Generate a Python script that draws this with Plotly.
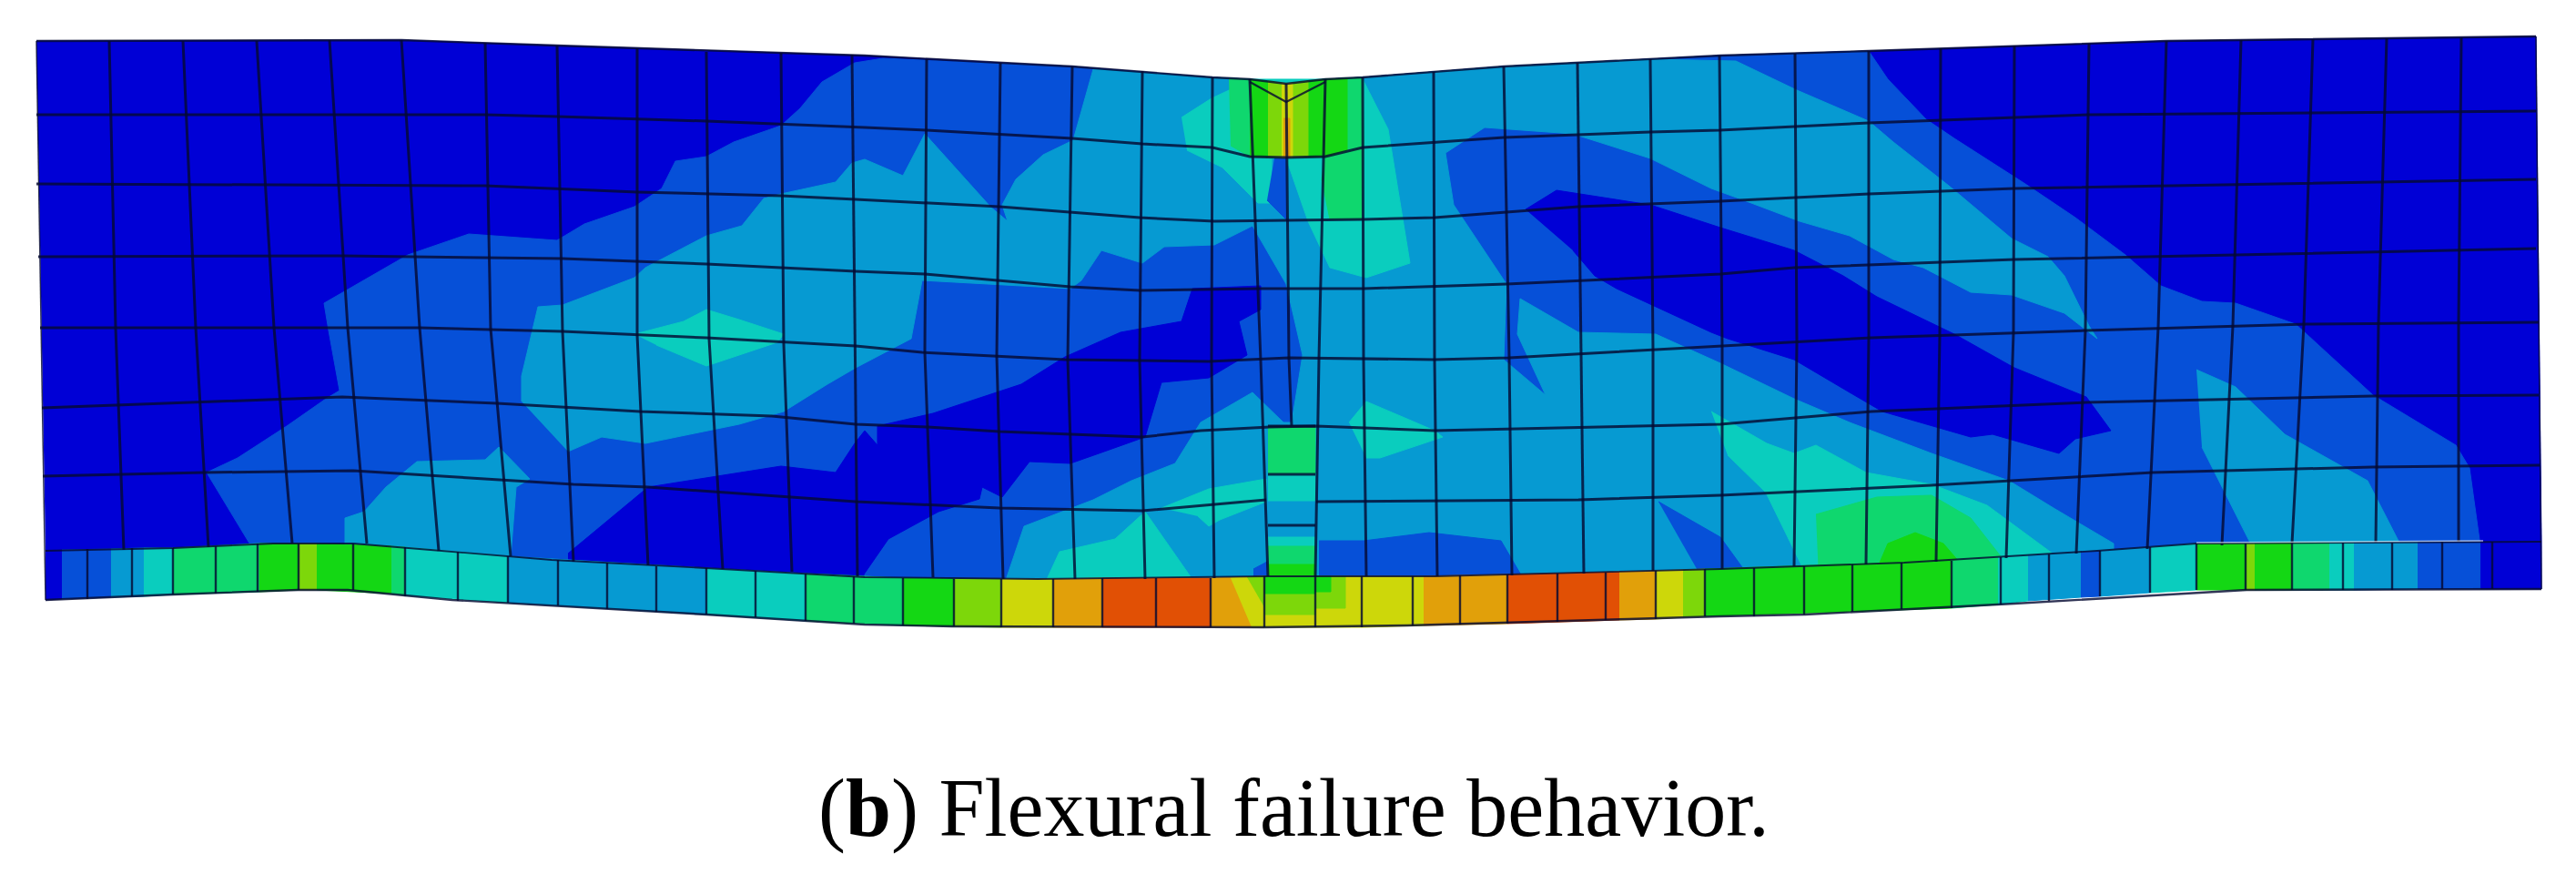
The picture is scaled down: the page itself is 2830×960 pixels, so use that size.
import plotly.graph_objects as go

# band colours of the contour legend, low to high
BAND_COLORS = ["#0000d6", "#0650d8", "#069ad2", "#0acdbe", "#0fd76e", "#14d714",
               "#7dd70a", "#cdd70a", "#e1a00a", "#e15005"]

# deformed outline of the beam
TOP_X = [40, 441, 612, 950, 1178, 1332, 1373, 1413, 1456, 1497, 1652, 1890, 2053, 2380, 2786]
TOP_Y = [45, 44, 50, 61, 73, 85, 87, 92, 87, 85, 73, 61, 56, 45, 40]
BOTTOM_X = [50, 190, 327, 382, 497, 776, 950, 1046, 1388, 1546, 1789, 1890, 1983, 2213, 2468, 2792]
BOTTOM_Y = [659, 653, 648, 648, 659, 675, 686, 688, 689, 687, 680, 677, 675, 663, 648, 647]

# horizontal mesh lines
ROW1_X = [40, 533, 612, 776, 950, 1018, 1178, 1255, 1332, 1373, 1413, 1456, 1497, 1652, 1813, 1889, 2053, 2295, 2786]
ROW1_Y = [126, 126, 128, 133, 140, 143, 152, 158, 162, 172, 173, 172, 162, 151, 145, 143, 135, 126, 122]
ROW2_X = [40, 533, 700, 858, 940, 1018, 1098, 1252, 1334, 1414, 1498, 1576, 1734, 1890, 2053, 2213, 2541, 2786]
ROW2_Y = [202, 204, 211, 215, 219, 223, 227, 239, 243, 242, 241, 239, 227, 221, 213, 207, 201, 197]
ROW3_X = [42, 376, 618, 776, 940, 1016, 1176, 1252, 1385, 1498, 1655, 1813, 1890, 1971, 2213, 2456, 2786]
ROW3_Y = [282, 281, 284, 290, 298, 301, 315, 319, 317, 317, 312, 305, 301, 294, 285, 280, 273]
ROW4_X = [44, 461, 618, 776, 940, 1013, 1170, 1328, 1416, 1576, 1658, 1890, 2056, 2292, 2534, 2789]
ROW4_Y = [360, 360, 364, 371, 380, 387, 395, 397, 393, 395, 393, 380, 371, 363, 356, 354]
ROW5_X = [46, 218, 376, 546, 703, 848, 940, 1019, 1098, 1255, 1319, 1395, 1446, 1576, 1890, 2056, 2292, 2607, 2789]
ROW5_Y = [448, 442, 436, 443, 452, 457, 466, 469, 474, 480, 473, 469, 468, 473, 466, 452, 442, 435, 434]
ROW6A_X = [47, 224, 388, 630, 712, 940, 1098, 1255, 1391]
ROW6A_Y = [523, 519, 517, 532, 535, 551, 558, 561, 549]
ROW6B_X = [1446, 1734, 1890, 2122, 2365, 2607, 2790]
ROW6B_Y = [551, 549, 544, 533, 519, 513, 511]
ROW7_X = [50, 190, 300, 388, 473, 606, 776, 950, 1140, 1391, 1576, 1819, 1890, 2092, 2304, 2413, 2728, 2792]
ROW7_Y = [605, 602, 597, 597, 604, 615, 624, 634, 636, 633, 633, 627, 625, 618, 605, 597, 595, 595]

# vertical mesh lines, top node / mid height node / bottom node
COL_TOP_X = [120, 201, 282, 362, 441, 533, 612, 700, 776, 858, 936, 1018, 1099, 1178, 1255, 1332, 1373, 1413, 1456,
             1497, 1575, 1652, 1733, 1813, 1889, 1972, 2053, 2132, 2213, 2295, 2380, 2462, 2541, 2622, 2704]
COL_TOP_Y = [45, 45, 45, 44, 44, 47, 50, 53, 57, 58, 60, 65, 69, 73, 78, 85, 87, 92, 87,
             85, 79, 73, 69, 65, 61, 59, 56, 53, 50, 48, 45, 44, 43, 42, 41]
COL_MID_X = [127, 215, 301, 382, 461, 539, 618, 700, 779, 861, 939, 1016, 1095, 1173, 1252, 1331, 1385, 1416, 1449,
             1498, 1576, 1658, 1737, 1816, 1892, 1974, 2053, 2131, 2212, 2291, 2371, 2453, 2531, 2613, 2701]
COL_MID_Y = [360, 360, 360, 360, 360, 361, 364, 368, 372, 378, 381, 387, 391, 395, 396, 397, 396, 393, 394,
             395, 395, 393, 389, 384, 380, 376, 371, 368, 365, 363, 360, 358, 356, 355, 354]
COL_BOT_X = [136, 229, 321, 403, 482, 561, 630, 712, 794, 870, 942, 1025, 1102, 1181, 1258, 1334, 1393, 1419, 1445,
             1501, 1579, 1661, 1740, 1816, 1892, 1971, 2050, 2127, 2204, 2281, 2359, 2441, 2518, 2610, 2701]
COL_BOT_Y = [604, 601, 597, 597, 605, 611, 617, 621, 625, 628, 633, 634, 636, 636, 636, 635, 633, 468, 633,
             633, 633, 632, 630, 627, 625, 622, 620, 617, 613, 608, 603, 599, 597, 596, 595]

# steel bar row under the concrete: where a band starts, its edges, its band index
BAR_X = [50, 68, 122, 158, 190, 285, 328, 348, 430, 445, 558, 776, 885, 992, 1048, 1100, 1157, 1211, 1330, 1389,
         1445, 1498, 1564, 1656, 1779, 1819, 1849, 1873, 2144, 2195, 2228, 2286, 2307, 2362, 2413, 2468, 2477,
         2518, 2559, 2586, 2656, 2725, 2792]
BAR_TOP = [605, 604, 603, 602, 602, 597, 597, 597, 600, 601, 611, 624, 630, 635, 636, 636, 636, 635, 635, 633,
           633, 633, 633, 631, 628, 627, 626, 625, 616, 612, 610, 606, 605, 601, 597, 597, 597,
           596, 596, 596, 595, 595, 595]
BAR_BOT = [659, 658, 656, 655, 653, 650, 648, 648, 652, 654, 662, 675, 682, 687, 688, 689, 689, 689, 689, 689,
           689, 689, 687, 685, 681, 680, 678, 677, 668, 664, 660, 656, 655, 651, 648, 648, 648,
           648, 648, 648, 647, 647, 647]
BAR_BAND = [0, 1, 2, 3, 4, 5, 6, 5, 4, 3, 2, 3, 4, 5, 6, 7, 8, 9, 8, 7,
            7, 7, 8, 9, 8, 7, 6, 5, 4, 3, 2, 1, 2, 3, 5, 6, 5,
            4, 3, 2, 1, 0]
BAR_TICK_X = [96, 145, 190, 237, 283, 328, 388, 445, 503, 558, 613, 667, 721, 776, 830, 885, 938, 992, 1048, 1100,
              1157, 1211, 1270, 1330, 1389, 1445, 1496, 1552, 1604, 1656, 1711, 1764, 1819, 1873, 1927, 1982, 2035,
              2089, 2144, 2198, 2251, 2307, 2362, 2413, 2467, 2518, 2574, 2628, 2683, 2738]
BAR_TICK_TOP = [603, 602, 602, 600, 597, 597, 597, 601, 606, 611, 615, 618, 622, 624, 627, 630, 633, 635, 636, 636,
                636, 635, 635, 635, 633, 633, 633, 633, 632, 631, 630, 629, 627, 625, 624, 622, 620,
                618, 616, 612, 609, 605, 601, 597, 597, 596, 596, 596, 595, 595]
BAR_TICK_BOT = [658, 655, 653, 652, 650, 648, 648, 655, 660, 662, 665, 669, 672, 675, 678, 682, 685, 687, 688, 689,
                689, 689, 689, 689, 689, 689, 689, 687, 686, 685, 683, 681, 680, 677, 677, 675, 672,
                669, 668, 664, 660, 655, 651, 648, 648, 648, 648, 648, 647, 647]
BAR_GLINT_X = [2413, 2728]
BAR_GLINT_Y = [596, 594]

# stress bands, drawn from the lowest band upward
B1_X = [276, 227, 261, 315, 358, 373, 361, 356, 448, 515, 612, 642, 697, 727, 742, 776, 806, 858, 879, 903, 939, 970,
        1178, 1332, 1413, 1497, 1652, 1890, 2053, 2074, 2116, 2147, 2225, 2280, 2335, 2374, 2419, 2456, 2522, 2607,
        2698, 2713, 2725, 2304, 1890, 1391, 950, 606, 388]
B1_Y = [600, 519, 503, 468, 438, 429, 363, 333, 280, 257, 264, 246, 227, 207, 177, 172, 156, 138, 119, 90, 69, 64,
        73, 85, 92, 85, 73, 61, 56, 87, 131, 152, 202, 239, 280, 314, 331, 333, 356, 434,
        489, 514, 600, 610, 630, 640, 640, 620, 600]

B2_MAIN_X = [573, 573, 591, 618, 697, 709, 776, 815, 839, 858, 918, 936, 950, 992, 1016, 1088, 1107, 1101, 1116, 1146,
             1179, 1201, 1332, 1373, 1413, 1456, 1497, 1652, 1813, 1907, 1974, 2053, 2080, 2141, 2210, 2250, 2268,
             2295, 2304, 2268, 2210, 2165, 2113, 2080, 2032, 1977, 1916, 1880, 1813, 1728, 1631, 1588, 1597, 1655,
             1652, 1698, 1667, 1670, 1734, 1819, 1890, 1971, 2032, 2122, 2207, 2256, 2322, 2322, 2100, 1890, 1650,
             1391, 1104, 1125, 1201, 1243, 1291, 1319, 1376, 1410, 1419, 1431, 1413, 1376, 1334, 1279, 1255, 1210,
             1188, 1176, 1091, 1013, 1001, 940, 909, 861, 812, 709, 661, 624]
B2_MAIN_Y = [441, 413, 337, 335, 305, 294, 259, 248, 218, 213, 200, 179, 175, 193, 147, 227, 243, 225, 197, 170,
             154, 76, 85, 87, 92, 87, 85, 73, 65, 67, 99, 133, 156, 204, 262, 282, 303,
             358, 372, 344, 324, 321, 294, 285, 259, 243, 220, 207, 174, 147, 140, 168, 225, 312,
             395, 434, 367, 328, 365, 367, 399, 438, 464, 498, 528, 558, 597, 610, 625, 635, 640,
             640, 640, 578, 549, 528, 509, 464, 431, 464, 464, 390, 312, 248, 269, 271, 289, 275,
             308, 317, 312, 308, 372, 404, 422, 452, 466, 487, 480, 496]
B2_LEFT_X = [379, 379, 400, 424, 458, 533, 548, 582, 567, 561]
B2_LEFT_Y = [600, 569, 562, 535, 507, 505, 491, 526, 535, 612]
B2_RIGHT_X = [2413, 2456, 2510, 2601, 2638, 2474, 2419]
B2_RIGHT_Y = [406, 425, 477, 528, 600, 600, 491]

B1_HOLE_A_X = [1449, 1498, 1570, 1649, 1676, 1449]
B1_HOLE_A_Y = [594, 594, 585, 594, 640, 640]
B1_HOLE_B_X = [1822, 1890, 1919, 1867]
B1_HOLE_B_Y = [551, 590, 630, 630]
B1_HOLE_C_X = [1377, 1392, 1392, 1377]
B1_HOLE_C_Y = [625, 617, 636, 636]
B1_SLIVER_X = [1400, 1413, 1413, 1392]
B1_SLIVER_Y = [174, 174, 241, 220]

B0_LOW_X = [624, 712, 788, 858, 918, 939, 950, 964, 964, 1025, 1122, 1170, 1231, 1298, 1310, 1385, 1385, 1361, 1370,
            1328, 1276, 1258, 1213, 1176, 1131, 1101, 1079, 1076, 1031, 976, 949, 949, 624]
B0_LOW_Y = [608, 535, 523, 512, 519, 487, 473, 489, 468, 454, 422, 392, 365, 353, 317, 314, 340, 353, 390,
            415, 420, 480, 496, 509, 507, 546, 535, 548, 562, 592, 631, 645, 630]
B0_RIGHT_X = [1676, 1710, 1813, 1890, 1971, 2025, 2062, 2147, 2213, 2292, 2319, 2280, 2262, 2189, 2165, 2068, 2032,
              1971, 1898, 1880, 1776, 1752, 1728]
B0_RIGHT_Y = [230, 209, 225, 250, 275, 303, 326, 367, 404, 436, 473, 482, 498, 477, 480, 452, 431,
              395, 372, 365, 317, 303, 275]

B3_LEFT_X = [697, 751, 776, 812, 861, 854, 776, 721]
B3_LEFT_Y = [367, 353, 340, 351, 367, 376, 402, 379]
B3_CROWN_X = [1298, 1331, 1376, 1497, 1525, 1549, 1501, 1461, 1437, 1413, 1397, 1397, 1382, 1343, 1304]
B3_CROWN_Y = [129, 108, 87, 87, 142, 289, 305, 294, 243, 174, 174, 223, 223, 184, 165]
B3_MID_X = [1482, 1501, 1576, 1585, 1516, 1501]
B3_MID_Y = [464, 441, 473, 480, 503, 503]
B3_LOBE_X = [1146, 1164, 1225, 1258, 1316]
B3_LOBE_Y = [645, 606, 592, 562, 645]
B3_LOBE2_X = [1276, 1328, 1391, 1391, 1340, 1328, 1316]
B3_LOBE2_Y = [558, 537, 526, 551, 571, 578, 567]
B3_RIGHT_X = [1880, 1941, 1971, 1995, 2050, 2122, 2183, 2259, 2259, 1986, 1940, 1898]
B3_RIGHT_Y = [452, 487, 498, 489, 519, 532, 555, 611, 625, 635, 541, 500]

B4_RIGHT_X = [1995, 2062, 2122, 2165, 2201, 2201, 1998]
B4_RIGHT_Y = [565, 546, 544, 569, 615, 625, 635]
B5_RIGHT_X = [2062, 2074, 2104, 2135, 2153, 2153, 2062]
B5_RIGHT_Y = [625, 597, 585, 597, 618, 630, 635]

B4_CROWN_X = [1350, 1373, 1413, 1456, 1497, 1498, 1496, 1461, 1452, 1456, 1413, 1373, 1352]
B4_CROWN_Y = [86, 87, 92, 87, 85, 161, 241, 241, 197, 172, 173, 172, 160]
B5_CROWN_X = [1373, 1413, 1456, 1480, 1480, 1456, 1413, 1373]
B5_CROWN_Y = [87, 92, 87, 86, 165, 172, 173, 172]
B6_CROWN_X = [1393, 1413, 1437, 1437, 1413, 1393]
B6_CROWN_Y = [89, 92, 89, 172, 173, 172]
B7_CROWN_X = [1408, 1413, 1420, 1420, 1413, 1408]
B7_CROWN_Y = [91, 92, 91, 173, 173, 173]
B8_CROWN_X = [1410, 1417, 1417, 1410]
B8_CROWN_Y = [130, 130, 173, 173]

# the stack of cells under the mid span crack
CRACK_LEFT = 1393
CRACK_RIGHT = 1445
CRACK_EDGES = [468, 521, 551, 590, 600, 620, 634]
CRACK_BANDS = [4, 3, 2, 3, 4, 5]
CRACK_LINES = [468, 521, 577]

# colour patches inside the bar cells at mid span
WEDGE_Y7_X = [1352, 1389, 1389, 1375]
WEDGE_Y7_Y = [635, 633, 689, 689]
WEDGE_G6_X = [1370, 1389, 1389]
WEDGE_G6_Y = [634, 633, 667]
CELL_M6_X = [1389, 1445, 1445, 1389]
CELL_M6_Y = [633, 633, 675, 675]
CELL_M5_X = [1389, 1445, 1445, 1389]
CELL_M5_Y = [633, 633, 652, 652]
CELL_R6_X = [1445, 1478, 1478, 1445]
CELL_R6_Y = [633, 633, 668, 668]
CELL_R5_X = [1445, 1462, 1462, 1445]
CELL_R5_Y = [633, 633, 650, 650]

# the V shaped element edges at the notch
NOTCH_X = [1373, 1413, 1456]
NOTCH_Y = [90, 112, 90]

CAPTION = "(<b>b</b>) Flexural failure behavior."

MESH_COLOR = "rgba(5,10,50,0.82)"

fig = go.Figure()


def add_band(xs, ys, band):
    fig.add_trace(go.Scatter(x=xs, y=ys, mode="lines", fill="toself", fillcolor=BAND_COLORS[band],
                             line=dict(color=BAND_COLORS[band], width=1), hoverinfo="skip", showlegend=False))


def add_line(xs, ys, width=3, color=MESH_COLOR):
    fig.add_trace(go.Scatter(x=xs, y=ys, mode="lines", line=dict(color=color, width=width),
                             hoverinfo="skip", showlegend=False))


# concrete body, lowest band first
add_band(TOP_X + ROW7_X[::-1], TOP_Y + ROW7_Y[::-1], 0)
add_band(B1_X, B1_Y, 1)
add_band(B2_MAIN_X, B2_MAIN_Y, 2)
add_band(B2_LEFT_X, B2_LEFT_Y, 2)
add_band(B2_RIGHT_X, B2_RIGHT_Y, 2)
add_band(B1_HOLE_A_X, B1_HOLE_A_Y, 1)
add_band(B1_HOLE_B_X, B1_HOLE_B_Y, 1)
add_band(B1_HOLE_C_X, B1_HOLE_C_Y, 1)
add_band(B0_LOW_X, B0_LOW_Y, 0)
add_band(B0_RIGHT_X, B0_RIGHT_Y, 0)
add_band(B3_LEFT_X, B3_LEFT_Y, 3)
add_band(B3_CROWN_X, B3_CROWN_Y, 3)
add_band(B1_SLIVER_X, B1_SLIVER_Y, 1)
add_band(B3_MID_X, B3_MID_Y, 3)
add_band(B3_LOBE_X, B3_LOBE_Y, 3)
add_band(B3_LOBE2_X, B3_LOBE2_Y, 3)
add_band(B3_RIGHT_X, B3_RIGHT_Y, 3)
add_band(B4_RIGHT_X, B4_RIGHT_Y, 4)
add_band(B5_RIGHT_X, B5_RIGHT_Y, 5)
add_band(B4_CROWN_X, B4_CROWN_Y, 4)
add_band(B5_CROWN_X, B5_CROWN_Y, 5)
add_band(B6_CROWN_X, B6_CROWN_Y, 6)
add_band(B7_CROWN_X, B7_CROWN_Y, 7)
add_band(B8_CROWN_X, B8_CROWN_Y, 8)

# cells under the crack
for i, band in enumerate(CRACK_BANDS):
    add_band([CRACK_LEFT, CRACK_RIGHT, CRACK_RIGHT, CRACK_LEFT],
             [CRACK_EDGES[i], CRACK_EDGES[i], CRACK_EDGES[i + 1], CRACK_EDGES[i + 1]], band)

# steel bar row
for i, band in enumerate(BAR_BAND):
    add_band([BAR_X[i], BAR_X[i + 1], BAR_X[i + 1], BAR_X[i]],
             [BAR_TOP[i], BAR_TOP[i + 1], BAR_BOT[i + 1], BAR_BOT[i]], band)
add_band(WEDGE_Y7_X, WEDGE_Y7_Y, 7)
add_band(WEDGE_G6_X, WEDGE_G6_Y, 6)
add_band(CELL_M6_X, CELL_M6_Y, 6)
add_band(CELL_M5_X, CELL_M5_Y, 5)
add_band(CELL_R6_X, CELL_R6_Y, 6)
add_band(CELL_R5_X, CELL_R5_Y, 5)

# mesh lines
for xs, ys in [(ROW1_X, ROW1_Y), (ROW2_X, ROW2_Y), (ROW3_X, ROW3_Y), (ROW4_X, ROW4_Y), (ROW5_X, ROW5_Y),
               (ROW6A_X, ROW6A_Y), (ROW6B_X, ROW6B_Y)]:
    add_line(xs, ys)
for i in range(len(COL_TOP_X)):
    add_line([COL_TOP_X[i], COL_MID_X[i], COL_BOT_X[i]], [COL_TOP_Y[i], COL_MID_Y[i], COL_BOT_Y[i]])
for i in range(len(BAR_TICK_X)):
    add_line([BAR_TICK_X[i], BAR_TICK_X[i]], [BAR_TICK_TOP[i], BAR_TICK_BOT[i]], width=2.4)
for y in CRACK_LINES:
    add_line([CRACK_LEFT, CRACK_RIGHT], [y, y])
add_line(NOTCH_X, NOTCH_Y, width=2.4)

# outline of the whole beam
add_line(TOP_X, TOP_Y, width=2.4)
add_line(BOTTOM_X, BOTTOM_Y, width=2.4)
add_line(ROW7_X, ROW7_Y, width=1.8)
add_line(BAR_GLINT_X, BAR_GLINT_Y, width=1.5, color="rgba(255,255,255,0.6)")
add_line([TOP_X[0], BOTTOM_X[0]], [TOP_Y[0], BOTTOM_Y[0]], width=1.5)
add_line([TOP_X[-1], BOTTOM_X[-1]], [TOP_Y[-1], BOTTOM_Y[-1]], width=1.5)

fig.add_annotation(x=1421, y=888, xref="x", yref="y", text=CAPTION, showarrow=False,
                   font=dict(family="Liberation Serif", size=90, color="#000000"))

fig.update_layout(
    width=2830, height=960, margin=dict(l=0, r=0, t=0, b=0),
    paper_bgcolor="white", plot_bgcolor="white", showlegend=False,
    xaxis=dict(range=[0, 2830], visible=False, fixedrange=True),
    yaxis=dict(range=[960, 0], visible=False, fixedrange=True),
)

fig.write_html("out.html", config={"displayModeBar": False}, post_script="document.body.style.margin='0';")
